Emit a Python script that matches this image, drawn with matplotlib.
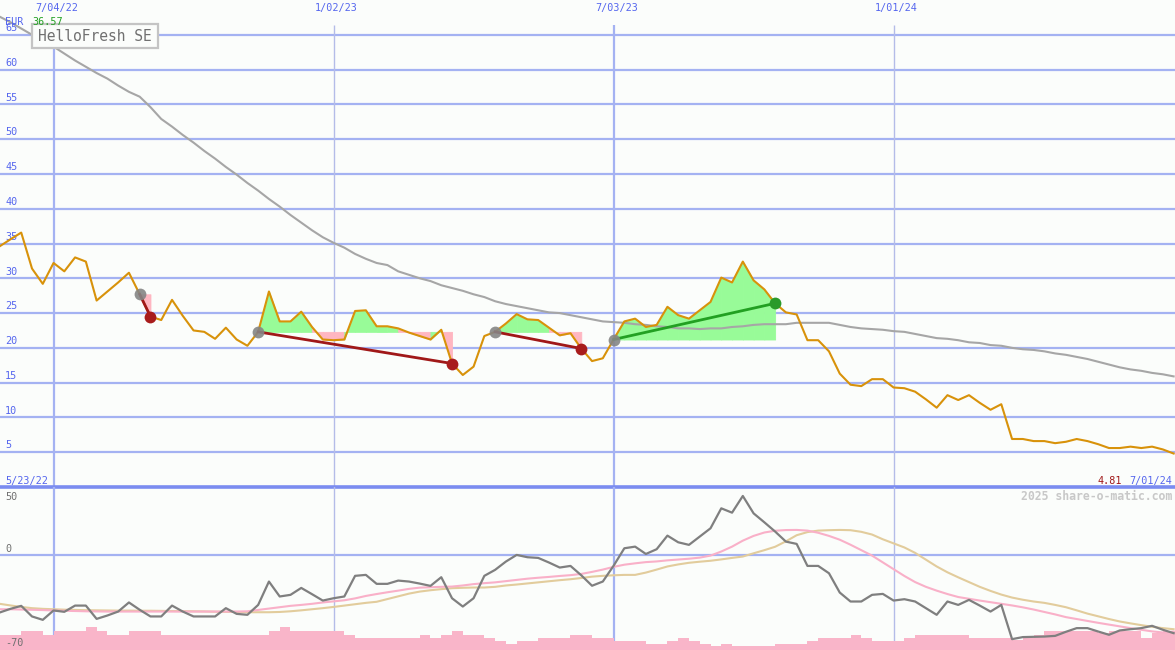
import numpy as np
import pandas as pd
import matplotlib
matplotlib.use("Agg")
import matplotlib.pyplot as plt
import matplotlib.dates as mdates
import matplotlib.transforms as mtransforms
from matplotlib.patches import Rectangle

# weekly closes, HelloFresh SE (EUR)
dates = pd.date_range("2022-05-30", periods=110, freq="7D")

price = [34.6, 35.6, 36.57, 31.4, 29.2, 32.2, 31.0, 33.0, 32.4, 26.8,
         28.1, 29.4, 30.8, 27.7, 24.5, 24.0, 26.9, 24.6, 22.5, 22.3,
         21.3, 22.9, 21.2, 20.3, 22.3, 28.1, 23.8, 23.8, 25.2, 23.0,
         21.2, 21.1, 21.2, 25.3, 25.4, 23.1, 23.1, 22.8, 22.2, 21.7,
         21.2, 22.6, 17.75, 16.1, 17.3, 21.7, 22.3, 23.5, 24.85, 24.1,
         24.0, 22.9, 21.8, 22.1, 19.9, 18.1, 18.5, 21.2, 23.8, 24.2,
         23.0, 23.3, 25.9, 24.7, 24.2, 25.4, 26.6, 30.1, 29.4, 32.4,
         29.7, 28.4, 26.4, 25.1, 24.8, 21.1, 21.1, 19.5, 16.3, 14.7,
         14.5, 15.5, 15.5, 14.3, 14.2, 13.7, 12.6, 11.4, 13.2, 12.5,
         13.2, 12.1, 11.1, 11.9, 6.9, 6.9, 6.6, 6.6, 6.3, 6.5,
         6.9, 6.6, 6.15, 5.6, 5.6, 5.8, 5.6, 5.8, 5.4, 4.81]

ma_long = [67.6, 66.8, 65.9, 65.0, 64.1, 63.3, 62.3, 61.3, 60.4, 59.5,
           58.7, 57.7, 56.8, 56.1, 54.6, 52.9, 51.8, 50.6, 49.5, 48.3,
           47.2, 46.0, 44.9, 43.7, 42.6, 41.4, 40.3, 39.1, 38.0, 36.9,
           35.9, 35.1, 34.4, 33.5, 32.8, 32.2, 31.9, 31.0, 30.5, 30.0,
           29.6, 29.0, 28.6, 28.2, 27.7, 27.3, 26.7, 26.3, 26.0, 25.7,
           25.4, 25.1, 25.0, 24.7, 24.4, 24.1, 23.8, 23.7, 23.6, 23.4,
           23.3, 23.1, 23.0, 22.8, 22.8, 22.7, 22.8, 22.8, 23.0, 23.1,
           23.3, 23.4, 23.4, 23.4, 23.6, 23.6, 23.6, 23.6, 23.3, 23.0,
           22.8, 22.7, 22.6, 22.4, 22.3, 22.0, 21.7, 21.4, 21.3, 21.1,
           20.8, 20.7, 20.4, 20.3, 20.0, 19.8, 19.7, 19.5, 19.2, 19.0,
           18.7, 18.4, 18.0, 17.6, 17.2, 16.9, 16.7, 16.4, 16.2, 15.9]

osc = [-42.4, -39.7, -37.5, -45.3, -47.8, -40.9, -41.9, -37.3, -37.3, -47.1,
       -44.6, -41.7, -35.0, -40.4, -45.3, -45.3, -37.3, -41.7, -45.3, -45.3,
       -45.3, -39.2, -43.4, -44.1, -36.8, -19.6, -30.6, -29.4, -24.3, -28.9,
       -33.6, -31.9, -30.6, -15.4, -14.7, -21.3, -21.3, -18.9, -19.6, -21.1,
       -22.8, -16.4, -31.9, -38.0, -31.9, -15.4, -11.0, -4.9, 0.0, -1.7,
       -2.2, -5.6, -9.3, -8.1, -15.0, -22.7, -19.6, -8.0, 4.9, 6.1,
       0.7, 4.2, 14.2, 9.3, 7.4, 13.5, 19.6, 34.3, 31.1, 43.4,
       30.6, 24.0, 17.2, 9.8, 8.1, -8.1, -8.1, -13.5, -27.7, -34.3,
       -34.3, -29.4, -28.7, -33.6, -32.6, -34.3, -39.2, -44.1, -34.3, -36.8,
       -33.1, -37.3, -41.7, -36.8, -62.0, -60.5, -60.3, -60.1, -59.6, -56.6,
       -53.9, -53.9, -56.4, -58.8, -55.6, -54.7, -53.9, -52.2, -55.1, -57.6]

osc_fast = [-40.0, -40.0, -40.2, -40.4, -40.6, -40.9, -41.1, -41.3, -41.5, -41.6,
            -41.7, -41.7, -41.7, -41.7, -41.7, -41.7, -41.7, -41.7, -41.7, -41.7,
            -41.7, -41.7, -41.7, -41.5, -40.5, -39.5, -38.5, -37.5, -36.8, -36.0,
            -35.0, -34.2, -33.4, -32.0, -30.2, -28.8, -27.5, -26.3, -25.0, -24.1,
            -23.8, -23.5, -23.3, -22.5, -21.5, -20.8, -20.2, -19.3, -18.4, -17.5,
            -16.8, -16.2, -15.5, -14.9, -14.0, -12.5, -10.8, -8.8, -7.2, -6.2,
            -5.3, -4.8, -4.0, -3.4, -2.8, -2.0, -0.5, 2.5, 6.1, 10.5,
            14.0, 16.5, 17.8, 18.3, 18.4, 17.9, 16.3, 14.0, 11.2, 7.5,
            3.5, -0.5, -5.5, -10.5, -15.5, -20.0, -23.5, -26.3, -28.8, -31.0,
            -32.3, -33.6, -34.8, -36.0, -37.2, -38.6, -40.2, -42.0, -43.8, -45.8,
            -47.2, -48.6, -50.0, -51.3, -52.6, -53.9, -55.1, -56.3, -57.1, -56.4]

osc_slow = [-36.0, -37.2, -38.3, -39.2, -39.7, -40.0, -40.3, -40.5, -40.7, -40.8,
            -40.9, -41.0, -41.0, -41.1, -41.1, -41.2, -41.3, -41.4, -41.5, -41.6,
            -41.8, -41.9, -42.0, -42.2, -42.2, -42.2, -42.0, -41.5, -40.8, -40.0,
            -39.2, -38.3, -37.3, -36.3, -35.3, -34.5, -32.5, -30.5, -28.5, -27.0,
            -26.0, -25.2, -24.5, -24.2, -24.0, -24.0, -23.5, -22.5, -21.8, -21.0,
            -20.2, -19.4, -18.6, -17.9, -17.0, -16.0, -15.4, -15.0, -14.7, -14.7,
            -13.0, -10.8, -8.5, -7.0, -5.8, -5.0, -4.3, -3.3, -2.2, -1.2,
            1.2, 3.5, 6.0, 10.0, 14.5, 16.8, 17.9, 18.2, 18.4, 18.2,
            17.0, 15.0, 11.5, 8.5, 5.5, 1.5, -3.5, -8.5, -12.8, -16.5,
            -20.0, -23.5, -26.5, -29.2, -31.4, -33.0, -34.3, -35.3, -36.8, -38.5,
            -40.8, -43.2, -45.2, -47.2, -49.0, -50.4, -51.7, -52.9, -53.9, -54.7]

volume = [-58.8, -58.8, -55.9, -55.9, -58.8, -55.9, -55.9, -55.9, -53.4, -55.9,
          -58.8, -58.8, -55.9, -55.9, -55.9, -58.8, -58.8, -58.8, -58.8, -58.8,
          -58.8, -58.8, -58.8, -58.8, -58.8, -55.9, -53.4, -55.9, -55.9, -55.9,
          -55.9, -55.9, -58.8, -61.3, -61.3, -61.3, -61.3, -61.3, -61.3, -58.8,
          -61.3, -58.8, -55.9, -58.8, -58.8, -61.3, -63.2, -65.4, -63.2, -63.2,
          -61.3, -61.3, -61.3, -58.8, -58.8, -60.8, -60.8, -63.2, -63.2, -63.2,
          -65.4, -65.4, -63.2, -60.8, -63.2, -65.4, -67.4, -65.4, -67.4, -67.4,
          -67.4, -67.4, -65.4, -65.4, -65.4, -63.2, -60.8, -60.8, -60.8, -58.8,
          -60.8, -63.2, -63.2, -63.2, -60.8, -58.8, -58.8, -58.8, -58.8, -58.8,
          -60.8, -60.8, -60.8, -60.8, -62.5, -60.8, -58.8, -55.9, -55.9, -55.9,
          -55.9, -55.9, -57.6, -55.9, -55.9, -55.9, -61.3, -57.6, -55.9, -55.9]

price_ticks = [5, 10, 15, 20, 25, 30, 35, 40, 45, 50, 55, 60, 65]
osc_ticks = [50, 0, -70]
tick_dates = ["2022-07-04", "2023-01-02", "2023-07-03", "2024-01-01"]
tick_labels = ["7/04/22", "1/02/23", "7/03/23", "1/01/24"]
tick_major = [True, False, True, False]
range_labels = ["5/23/22", "7/01/24"]

sig_start = ["2022-08-29", "2022-11-14", "2023-04-17", "2023-07-03"]
sig_end = ["2022-09-05", "2023-03-20", "2023-06-12", "2023-10-16"]

BG = "#fbfdfb"
GRID = "#a4b2f2"
GRID_THIN = "#b4bce8"
BLUE_TXT = "#5566ee"
MONO = "DejaVu Sans Mono"
FS = 7.3

x = mdates.date2num(dates.to_pydatetime())
price = np.array(price)

fig = plt.figure(figsize=(11.75, 6.5), dpi=100, facecolor=BG)
ax = fig.add_axes([0, 163 / 650, 1, 487 / 650])
ax2 = fig.add_axes([0, 0, 1, 163 / 650])
for a in (ax, ax2):
    a.set_axis_off()
    a.set_xlim(x[0] + 0.2, x[-1] + 0.9)
ax.set_ylim(0, 70)
ax2.set_ylim(-70, 50)

ytrans = mtransforms.blended_transform_factory(ax.transAxes, ax.transData)
ytrans2 = mtransforms.blended_transform_factory(ax2.transAxes, ax2.transData)

# horizontal grid + labels
for v in price_ticks:
    ax.axhline(v, color=GRID, lw=1.6, zorder=0)
    ax.text(0.0045, v + 0.25, str(v), transform=ytrans, color=BLUE_TXT,
            fontsize=FS, family=MONO, va="bottom", ha="left")
ax.axhline(0, color="#7b8cf0", lw=2.6, zorder=6, clip_on=False)
ax2.axhline(0, color=GRID, lw=1.6, zorder=0)
for v, yy in zip(osc_ticks, [40.4, 2.2, -67.0]):
    ax2.text(0.0045, yy, str(v), transform=ytrans2, color="#707070",
             fontsize=FS, family=MONO, va="baseline", ha="left", zorder=6)

# vertical date lines
tx = mdates.date2num(pd.to_datetime(tick_dates).to_pydatetime())
for t, lab, major in zip(tx, tick_labels, tick_major):
    col = GRID if major else GRID_THIN
    lw = 1.6 if major else 1.0
    ax.vlines(t, 0, 66.4, color=col, lw=lw, zorder=0)
    ax2.axvline(t, color=col, lw=lw, zorder=0)
    ax.text(t + 2, 69.5, lab, color=BLUE_TXT, fontsize=FS, family=MONO,
            ha="center", va="top")

# signal fills, trend lines and markers
for s, e in zip(sig_start, sig_end):
    i0 = dates.get_loc(pd.Timestamp(s))
    i1 = dates.get_loc(pd.Timestamp(e))
    level = price[i0]
    for i in range(i0, i1):
        col = "#98fb98" if price[i + 1] >= level else "#ffb6c1"
        ax.fill_between(x[i:i + 2], price[i:i + 2], level, color=col,
                        lw=0.6, edgecolor=col, zorder=1)
    gain = price[i1] >= level
    ax.plot([x[i0], x[i1]], [price[i0], price[i1]],
            color="#22a022" if gain else "#a01818", lw=2, zorder=4)
    ax.plot(x[i0], price[i0], "o", ms=8.5, color="#858585", mec="none",
            alpha=0.9, zorder=5)
    ax.plot(x[i1], price[i1], "o", ms=8.5, mec="none", zorder=5,
            color="#2a9a2a" if gain else "#a81c1c")

ax.plot(x, ma_long, color="#a6a6a6", lw=1.5, zorder=2)
ax.plot(x, price, color="#d8920a", lw=1.5, zorder=3)

# header / footer texts
fig.patches.append(Rectangle((32 / 1175, (650 - 48) / 650), 126 / 1175, 24 / 650,
                             transform=fig.transFigure, fc=BG, ec="#c4c4c4",
                             lw=1.6, zorder=7))
fig.text(95 / 1175, 1 - 36.5 / 650, "HelloFresh SE", color="#707070",
         fontsize=10.5, family=MONO, ha="center", va="center", zorder=8)
fig.text(5 / 1175, 1 - 25 / 650, "EUR", color=BLUE_TXT, fontsize=FS,
         family=MONO, va="baseline", zorder=8)
fig.text(32 / 1175, 1 - 25 / 650, f"{price.max():.2f}", color="#22a022",
         fontsize=FS, family=MONO, va="baseline", zorder=8)

ax.text(0.0045, 0.45, range_labels[0], transform=ytrans, color=BLUE_TXT,
        fontsize=FS, family=MONO, va="baseline", ha="left")
ax.text(0.9975, 0.45, range_labels[1], transform=ytrans, color=BLUE_TXT,
        fontsize=FS, family=MONO, va="baseline", ha="right")
ax.text(1122 / 1175, 0.45, f"{price[-1]:.2f}", transform=ytrans,
        color="#a01818", fontsize=FS, family=MONO, va="baseline", ha="right")
ax2.text(0.9975, 40.4, "2025 share-o-matic.com", transform=ytrans2,
         color="#c8c8c8", fontsize=8.3, family=MONO, fontweight="bold",
         va="baseline", ha="right")

# lower panel
ax2.bar(x, np.array(volume) + 70, bottom=-70, width=7, align="edge",
        color="#f9b5c9", lw=0, zorder=1)
ax2.plot(x, osc_slow, color="#e2cc9c", lw=1.5, zorder=2)
ax2.plot(x, osc_fast, color="#f9b0c8", lw=1.5, zorder=3)
ax2.plot(x, osc, color="#7f7f7f", lw=1.6, zorder=4)

fig.savefig("out.png", dpi=100, facecolor=BG)
